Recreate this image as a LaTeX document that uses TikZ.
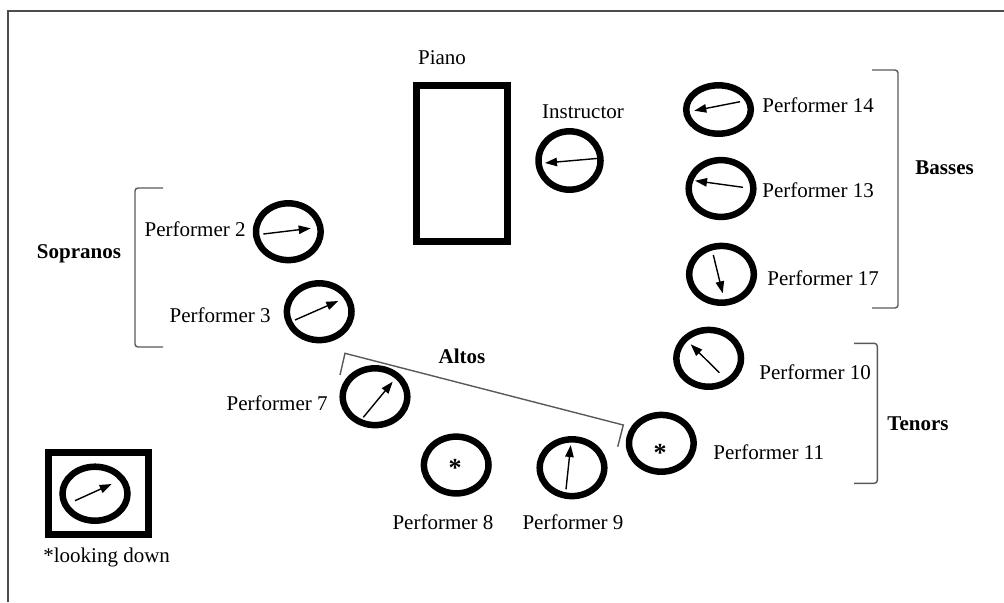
\documentclass[tikz,border=0pt]{standalone}
\usepackage{fontspec}
\setmainfont{Liberation Serif}
\usetikzlibrary{shapes.geometric,arrows.meta}
\begin{document}
\begin{tikzpicture}[x=0.5pt,y=-0.5pt,
  every node/.style={font=\fontsize{10.5}{12}\selectfont, inner sep=0pt},
  seat/.style={draw, ellipse, line width=3.25pt, minimum width=32.3pt, minimum height=28.4pt},
  facing/.style={line width=0.7pt, -{Triangle[length=6pt,width=4.2pt]}},
  bracket/.style={draw=black!65, line width=0.7pt, rounded corners=1.5pt},
  section/.style={font=\fontsize{10.5}{12}\selectfont\bfseries},
  downmark/.style={anchor=base, font=\fontsize{13}{14}\selectfont\bfseries},
  heavybox/.style={draw, line width=3.5pt}]
\useasboundingbox (0,0) rectangle (1004,602);
% page frame (top and left edges)
\draw[black!70, line width=0.8pt] (8,602) -- (8,11) -- (1004,11);

% piano and instructor
\node[heavybox, minimum width=45.5pt, minimum height=78pt] (piano) at (462,163.5) {};
\node (pianolbl) at (442,58) {Piano};
\node[seat, minimum width=31pt, minimum height=29.2pt] (instr) at (569.5,160.5) {};
\node (instrlbl) at (583,112) {Instructor};
\draw[facing] (602,158) -- (545,163);

% sopranos
\node[seat] (p2) at (288.3,231.7) {};
\node[anchor=east] (p2lbl) at (246,229.5) {Performer 2};
\draw[facing] (263.3,234) -- (310.7,228.3);
\node[seat] (p3) at (319.2,311.7) {};
\node[anchor=east] (p3lbl) at (271,315) {Performer 3};
\draw[facing] (295,320) -- (338.3,301);
\draw[bracket] (163,188) -- (135,188) -- (135,347) -- (163,347);
\node[section] (sop) at (79,254) {Sopranos};

% altos
\node[seat] (p7) at (375,396.7) {};
\node[anchor=east] (p7lbl) at (328,403) {Performer 7};
\draw[facing] (363.3,417.3) -- (392.7,381.7);
\node[seat] (p8) at (456.2,465) {};
\node[downmark] (p8star) at (455,476) {*};
\node (p8lbl) at (443,522) {Performer 8};
\node[seat] (p9) at (572,467.7) {};
\node (p9lbl) at (573,522) {Performer 9};
\draw[facing] (566,489.3) -- (570.7,445);
\draw[bracket, rounded corners=0pt] (340,375) -- (345,353.3) -- (623.3,425) -- (617.7,446.7);
\node[section] (alt) at (462,356) {Altos};

% tenors
\node[seat] (p10) at (708.7,358.3) {};
\node[anchor=west] (p10lbl) at (759,372) {Performer 10};
\draw[facing] (719.3,372.7) -- (690.7,344.3);
\node[seat] (p11) at (661.3,443.3) {};
\node[downmark] (p11star) at (660,461) {*};
\node[anchor=west] (p11lbl) at (713,452.5) {Performer 11};
\draw[bracket] (854,343.3) -- (877.3,343.3) -- (877.3,483.3) -- (854,483.3);
\node[section, anchor=west] (ten) at (887,424) {Tenors};

% basses
\node[seat, minimum height=24.2pt] (p14) at (718.5,109.5) {};
\node[anchor=west] (p14lbl) at (762,105) {Performer 14};
\draw[facing] (740,101.7) -- (694.3,110.7);
\node[seat] (p13) at (721,188.5) {};
\node[anchor=west] (p13lbl) at (762,190.5) {Performer 13};
\draw[facing] (743,187.3) -- (695,180.7);
\node[seat] (p17) at (721.5,274.3) {};
\node[anchor=west] (p17lbl) at (767,278.3) {Performer 17};
\draw[facing] (713.3,255) -- (722.7,293.3);
\draw[bracket] (872,70) -- (898,70) -- (898,308) -- (872,308);
\node[section, anchor=west] (bas) at (915,168) {Basses};

% legend
\node[heavybox, minimum width=49.85pt, minimum height=41pt] (legbox) at (98.35,493.8) {};
\node[seat, minimum width=32.5pt, minimum height=27pt] (legseat) at (95,493.7) {};
\draw[facing] (75,500.7) -- (111.7,484);
\node[anchor=west] (leglbl) at (43,557) {*looking down};
\end{tikzpicture}
\end{document}
